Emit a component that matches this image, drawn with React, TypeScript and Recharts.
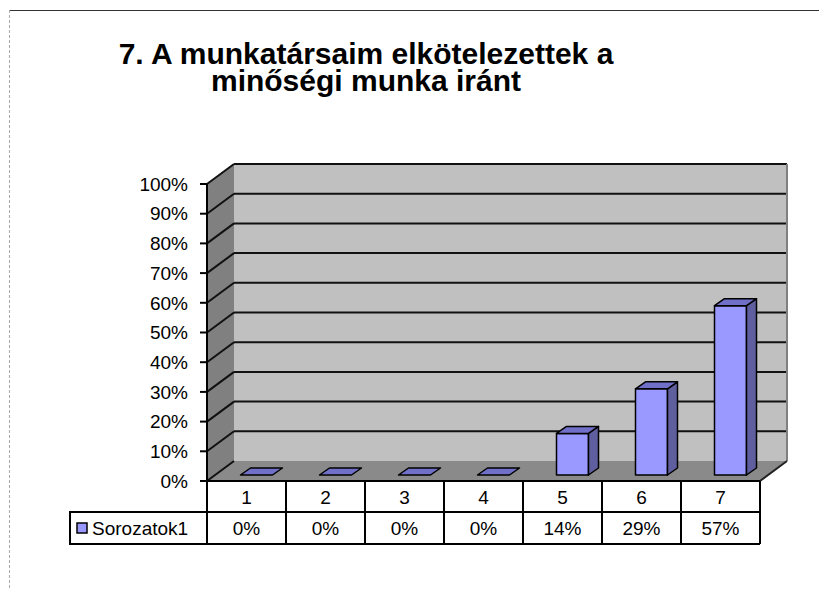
import React from 'react';
import { BarChart, Bar, XAxis, YAxis, ReferenceArea } from 'recharts';

const categories = ['1', '2', '3', '4', '5', '6', '7'];
const values = [0, 0, 0, 0, 0.14, 0.29, 0.57];
const valueLabels = ['0%', '0%', '0%', '0%', '14%', '29%', '57%'];
const yTicks = [0, 0.1, 0.2, 0.3, 0.4, 0.5, 0.6, 0.7, 0.8, 0.9, 1];
const seriesName = 'Sorozatok1';
const titleLines = ['7. A munkatársaim elkötelezettek a', 'minőségi munka iránt'];

const data = categories.map((name, i) => ({ name, value: values[i], label: valueLabels[i] }));

const W = 819;
const H = 590;
const PLOT_LEFT = 207;
const PLOT_RIGHT = 760;
const PLOT_TOP = 184;
const PLOT_BOTTOM = 481;
const YAXIS_W = 60;
const XAXIS_H = 63;
const DX = 27; // depth of the back wall
const DY = -20;
const FONT = 'Arial, "Liberation Sans", sans-serif';

const Walls = (props: any) => {
  const { x, y, width, height } = props;
  const bottom = y + height;
  const bx = x + DX;
  return (
    <g>
      <polygon points={`${x},${y} ${bx},${y + DY} ${bx},${bottom + DY} ${x},${bottom}`} fill="#808080" />
      <rect x={bx} y={y + DY} width={width} height={height} fill="#c0c0c0" />
      <polygon
        points={`${x},${bottom} ${x + width},${bottom} ${x + width + DX},${bottom + DY} ${bx},${bottom + DY}`}
        fill="#8a8a8a"
      />
      {yTicks.map((v) => {
        const ly = y + height * (1 - v);
        return (
          <g key={v}>
            <line x1={x} y1={ly} x2={bx} y2={ly + DY} stroke="#111" strokeWidth={2} />
            {v > 0 && <line x1={bx} y1={ly + DY} x2={bx + width} y2={ly + DY} stroke="#111" strokeWidth={2} />}
          </g>
        );
      })}
      <line x1={bx + width} y1={y + DY} x2={bx + width} y2={bottom + DY} stroke="#808080" strokeWidth={2} />
      <line x1={x + width} y1={bottom} x2={x + width + DX} y2={bottom + DY} stroke="#222" strokeWidth={2} />
    </g>
  );
};

const Box3D = (props: any) => {
  const { x, y, width, height } = props;
  const fx = x + 9.5;
  const fy = y - 6;
  const h = Math.max(0, height);
  const d = 10;
  const e = -7;
  return (
    <g stroke="#000" strokeWidth={1.5} strokeLinejoin="round">
      {h > 0 && (
        <>
          <rect x={fx} y={fy} width={width} height={h} fill="#9999ff" />
          <polygon
            points={`${fx + width},${fy} ${fx + width + d},${fy + e} ${fx + width + d},${fy + h + e} ${fx + width},${fy + h}`}
            fill="#5f5f9f"
          />
        </>
      )}
      <polygon
        points={`${fx},${fy} ${fx + d},${fy + e} ${fx + width + d},${fy + e} ${fx + width},${fy}`}
        fill="#7070c8"
      />
    </g>
  );
};

const TableTick = (props: any) => {
  const { x, payload } = props;
  const y = PLOT_BOTTOM;
  const i = payload.index;
  const colW = (PLOT_RIGHT - PLOT_LEFT) / categories.length;
  const left = x - colW / 2;
  const right = x + colW / 2;
  const mid = y + 31;
  const bot = y + 63;
  return (
    <g>
      <line x1={left} y1={y} x2={left} y2={bot} stroke="#000" strokeWidth={2} />
      {i === categories.length - 1 && <line x1={right} y1={y} x2={right} y2={bot} stroke="#000" strokeWidth={2} />}
      <line x1={left} y1={mid} x2={right} y2={mid} stroke="#000" strokeWidth={2} />
      <line x1={left} y1={bot} x2={right} y2={bot} stroke="#000" strokeWidth={2} />
      <text x={x} y={y + 23} textAnchor="middle" fontSize={19} fontFamily={FONT} fill="#000">
        {payload.value}
      </text>
      <text x={x} y={y + 54} textAnchor="middle" fontSize={19} fontFamily={FONT} fill="#000">
        {data[i].label}
      </text>
      {i === 0 && (
        <g>
          <rect x={70} y={mid} width={left - 70} height={bot - mid} fill="none" stroke="#000" strokeWidth={2} />
          <rect x={77} y={mid + 11} width={10} height={10} fill="#9999ff" stroke="#000" strokeWidth={1.5} />
          <text x={92} y={y + 54} fontSize={19} fontFamily={FONT} fill="#000">
            {seriesName}
          </text>
        </g>
      )}
    </g>
  );
};

export default function App() {
  return (
    <div style={{ position: 'absolute', left: 0, top: 0, width: W, height: H, background: '#fff' }}>
      <BarChart
        width={W}
        height={H}
        data={data}
        barSize={32}
        margin={{ top: PLOT_TOP, right: W - PLOT_RIGHT, bottom: H - PLOT_BOTTOM - XAXIS_H, left: PLOT_LEFT - YAXIS_W }}
      >
        <ReferenceArea y1={0} y2={1} ifOverflow="visible" shape={Walls} />
        <XAxis
          dataKey="name"
          height={XAXIS_H}
          tickLine={false}
          tickSize={0}
          tickMargin={0}
          interval={0}
          axisLine={{ stroke: '#000', strokeWidth: 2 }}
          tick={TableTick}
        />
        <YAxis
          width={YAXIS_W}
          domain={[0, 1]}
          ticks={yTicks}
          interval={0}
          tickFormatter={(v: number) => `${Math.round(v * 100)}%`}
          tickSize={7}
          tickMargin={12}
          axisLine={{ stroke: '#000', strokeWidth: 2 }}
          tickLine={{ stroke: '#000', strokeWidth: 2 }}
          tick={{ fill: '#000', fontSize: 19, fontFamily: FONT }}
        />
        <Bar dataKey="value" shape={Box3D} isAnimationActive={false} />
      </BarChart>
      <svg width={W} height={H} style={{ position: 'absolute', left: 0, top: 0, pointerEvents: 'none' }}>
        <line x1={9} y1={10.5} x2={W} y2={10.5} stroke="#333" strokeWidth={1} />
        <line x1={9.5} y1={10} x2={9.5} y2={H} stroke="#aaa" strokeWidth={1} strokeDasharray="3 2" />
        {titleLines.map((t, i) => (
          <text
            key={t}
            x={366}
            y={64 + i * 26.5}
            textAnchor="middle"
            fontSize={30}
            fontWeight="bold"
            fontFamily={FONT}
            fill="#000"
          >
            {t}
          </text>
        ))}
      </svg>
    </div>
  );
}
